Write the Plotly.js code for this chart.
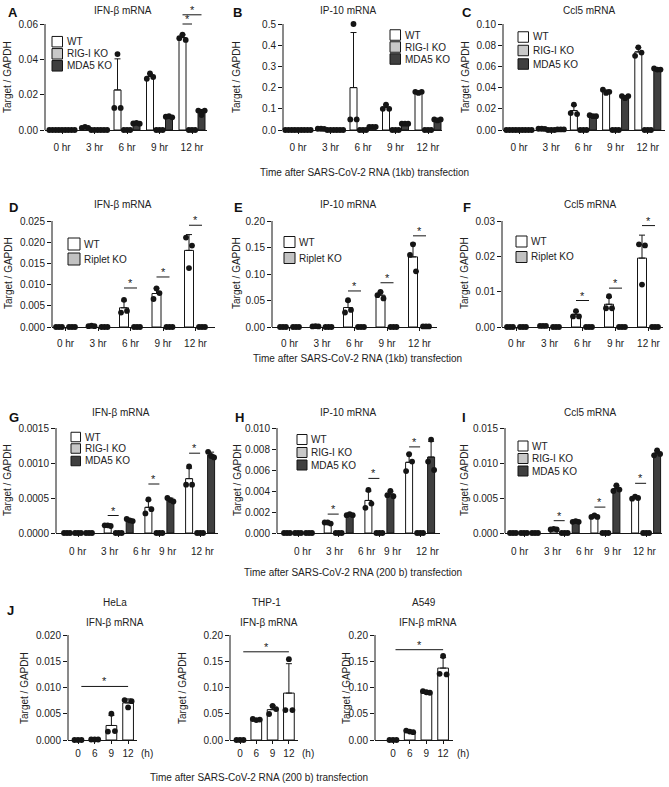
<!DOCTYPE html>
<html><head><meta charset="utf-8">
<script src="https://cdn.plot.ly/plotly-3.0.1.min.js"></script>
<style>html,body{margin:0;padding:0;background:#fff}#chart{width:669px;height:787px}</style>
</head><body><div id="chart"></div>
<script>
// ================= DATA =================
const hourLabels = ['0 hr', '3 hr', '6 hr', '9 hr', '12 hr'];
const hLabels = ['0', '6', '9', '12'];
const seriesTriple = ['WT', 'RIG-I KO', 'MDA5 KO'];
const seriesPair = ['WT', 'Riplet KO'];
const seriesSingle = ['WT'];

// replicates per time point (3 each)
const A_WT  = [[0,0,0],[0.0012,0.0018,0.0012],[0.0125,0.043,0.0125],[0.029,0.032,0.030],[0.052,0.054,0.051]];
const A_RIG = [[0,0,0],[0,0,0],[0,0,0],[0,0,0],[0,0,0]];
const A_MDA = [[0,0,0],[0,0,0],[0.0037,0.0040,0.0036],[0.0075,0.0078,0.0072],[0.0110,0.0085,0.0110]];

const B_WT  = [[0,0,0],[0.006,0.006,0.005],[0.05,0.50,0.05],[0.10,0.12,0.10],[0.18,0.175,0.18]];
const B_RIG = [[0,0,0],[0,0,0],[0,0,0],[0,0,0],[0,0,0]];
const B_MDA = [[0,0,0],[0,0,0],[0.015,0.015,0.015],[0.03,0.03,0.03],[0.05,0.045,0.05]];

const C_WT  = [[0,0,0],[0.0012,0.0012,0.001],[0.016,0.024,0.015],[0.038,0.035,0.036],[0.070,0.078,0.073]];
const C_RIG = [[0,0,0],[0,0,0],[0,0,0],[0,0,0],[0,0,0]];
const C_MDA = [[0,0,0],[0.0005,0.0005,0.0005],[0.014,0.013,0.013],[0.032,0.030,0.032],[0.058,0.057,0.057]];

const D_WT  = [[0,0,0],[0.0002,0.0003,0.0002],[0.0034,0.0064,0.0038],[0.0066,0.0091,0.0080],[0.0211,0.0139,0.0192]];
const D_KO  = [[0,0,0],[0,0,0],[0,0,0],[0,0,0],[0,0,0]];

const E_WT  = [[0,0,0],[0.001,0.0015,0.001],[0.0274,0.0505,0.0323],[0.060,0.066,0.054],[0.136,0.156,0.105]];
const E_KO  = [[0,0,0],[0,0,0],[0,0,0],[0,0,0],[0.001,0.001,0.001]];

const F_WT  = [[0,0,0],[0.0003,0.0003,0.0003],[0.0030,0.0045,0.0030],[0.0053,0.0087,0.0053],[0.0234,0.0120,0.0231]];
const F_KO  = [[0,0,0],[0,0,0],[0,0,0],[0,0,0],[0,0,0]];

const G_WT  = [[0,0,0],[0.00011,0.00011,0.00010],[0.00028,0.00048,0.00034],[0.00069,0.00095,0.00069]];
const G_RIG = [[0,0,0],[0,0,0],[0,0,0],[0,0,0]];
const G_MDA = [[0,0,0],[0.00020,0.00018,0.00017],[0.00050,0.00047,0.00045],[0.00116,0.00110,0.00108]];

const H_WT  = [[0,0,0],[0.0010,0.0010,0.0009],[0.0024,0.0041,0.0028],[0.0059,0.0075,0.0068]];
const H_RIG = [[0,0,0],[0,0,0],[0,0,0],[0,0,0]];
const H_MDA = [[0,0,0],[0.0017,0.0018,0.0017],[0.0036,0.0040,0.0035],[0.0068,0.0089,0.0060]];

const I_WT  = [[0,0,0],[0.0005,0.0006,0.0005],[0.0023,0.0025,0.0023],[0.0049,0.0052,0.0050]];
const I_RIG = [[0,0,0],[0,0,0],[0,0,0],[0,0,0]];
const I_MDA = [[0,0,0],[0.0016,0.0017,0.0016],[0.0060,0.0068,0.0062],[0.0111,0.0118,0.0113]];

const HeLa_WT = [[0,0,0],[0.0001,0.0001,0.0001],[0.0016,0.0050,0.0017],[0.0076,0.0062,0.0074]];
const THP1_WT = [[0,0,0],[0.040,0.038,0.039],[0.0495,0.065,0.059],[0.057,0.154,0.057]];
const A549_WT = [[0,0,0],[0.018,0.016,0.015],[0.093,0.091,0.090],[0.126,0.160,0.125]];

// significance marks: group, from-series, to-series, height
const sigA = [{g:4,a:0,b:1,y:0.0600},{g:4,a:0,b:2,y:0.0652}];
const sigD = [{g:2,a:0,b:1,y:0.0092},{g:3,a:0,b:1,y:0.0118},{g:4,a:0,b:1,y:0.0240}];
const sigE = [{g:2,a:0,b:1,y:0.068},{g:3,a:0,b:1,y:0.0835},{g:4,a:0,b:1,y:0.172}];
const sigF = [{g:2,a:0,b:1,y:0.0075},{g:3,a:0,b:1,y:0.0110},{g:4,a:0,b:1,y:0.0287}];
const sigG = [{g:1,a:0,b:1,y:0.00025},{g:2,a:0,b:1,y:0.00070},{g:3,a:0,b:1,y:0.00114}];
const sigH = [{g:1,a:0,b:1,y:0.0018},{g:2,a:0,b:1,y:0.0052},{g:3,a:0,b:1,y:0.0082}];
const sigI = [{g:1,a:0,b:1,y:0.00176},{g:2,a:0,b:1,y:0.0037},{g:3,a:0,b:1,y:0.0071}];
const sigHeLa = [{x0:0.2,x1:3.0,y:0.0102}];
const sigTHP1 = [{x0:0.2,x1:3.0,y:0.168}];
const sigA549 = [{x0:0.15,x1:3.0,y:0.172}];

// ================= LAYOUT / STYLE =================
const W = 669, H = 787;
const FONT = 'Arial, "Liberation Sans", Helvetica, sans-serif';
const INK = '#151515';
const COL = {'WT':'#ffffff','RIG-I KO':'#c8c8c8','MDA5 KO':'#3f3f3f','Riplet KO':'#c2c2c2'};
const row1 = {zero:130, topPx:24, domTop:1, xStand:5};
const row2 = {zero:327, topPx:221, domTop:198, xStand:4};
const row3 = {zero:533, topPx:428, domTop:420, xStand:4};
const row4 = {zero:740, topPx:635, domTop:628, xStand:1};

const panels = [
 Object.assign({letter:'A',letterPos:[6,13],title:'IFN-β mRNA',titlePos:[123,10],names:seriesTriple,data:[A_WT,A_RIG,A_MDA],ticks:hourLabels,
  ax:45,xe:207,g0:62,sp:32.5,top:0.06,dtick:0.02,fmt:'.2f',slot:9.5,bw:7,jit:3.2,sig:sigA,leg:{x:52,y:[41.7,53.8,65.8],box:10.5},yt:[8,77]},row1),
 Object.assign({letter:'B',letterPos:[231,13],title:'IP-10 mRNA',titlePos:[348,10],names:seriesTriple,data:[B_WT,B_RIG,B_MDA],ticks:hourLabels,
  ax:283,xe:442,g0:298,sp:32.5,top:0.5,dtick:0.1,fmt:'.1f',slot:9.5,bw:7,jit:3.2,sig:[],leg:{x:390,y:[35,47,59],box:10.5},yt:[237,77]},row1),
 Object.assign({letter:'C',letterPos:[460,13],title:'Ccl5 mRNA',titlePos:[589,10],names:seriesTriple,data:[C_WT,C_RIG,C_MDA],ticks:hourLabels,
  ax:503,xe:665,g0:519,sp:32.2,top:0.10,dtick:0.02,fmt:'.2f',slot:9.5,bw:7,jit:3.2,sig:[],leg:{x:518,y:[37,50.5,64],box:10.5},yt:[466,77]},row1),
 Object.assign({letter:'D',letterPos:[7,207],title:'IFN-β mRNA',titlePos:[123,205],names:seriesPair,data:[D_WT,D_KO],ticks:hourLabels,
  ax:52,xe:215,g0:65.5,sp:32.5,top:0.025,dtick:0.005,fmt:'.3f',slot:13,bw:9,jit:3,sig:sigD,leg:{x:68,y:[244,259],box:12},yt:[8,273]},row2),
 Object.assign({letter:'E',letterPos:[232,207],title:'IP-10 mRNA',titlePos:[348,205],names:seriesPair,data:[E_WT,E_KO],ticks:hourLabels,
  ax:272,xe:437,g0:289.5,sp:32.5,top:0.20,dtick:0.05,fmt:'.2f',slot:13,bw:9,jit:3,sig:sigE,leg:{x:284,y:[242,258],box:11},yt:[236,273]},row2),
 Object.assign({letter:'F',letterPos:[461,207],title:'Ccl5 mRNA',titlePos:[590,205],names:seriesPair,data:[F_WT,F_KO],ticks:hourLabels,
  ax:502,xe:663,g0:516.5,sp:33,top:0.03,dtick:0.01,fmt:'.2f',slot:13,bw:9,jit:3,sig:sigF,leg:{x:516,y:[241.5,257],box:11},yt:[464,273]},row2),
 Object.assign({letter:'G',letterPos:[7,417],title:'IFN-β mRNA',titlePos:[121,412],names:seriesTriple,data:[G_WT,G_RIG,G_MDA],annTicks:hourLabels,labelsU:[0,0.79,1.57,2.21,3.07],
  ax:56,xe:218,g0:78,sp:40.7,top:0.0015,dtick:0.0005,fmt:'.4f',slot:11,bw:7,jit:3,sig:sigG,leg:{x:71,y:[437,448.5,461],box:9.5},yt:[7,480]},row3),
 Object.assign({letter:'H',letterPos:[233,417],title:'IP-10 mRNA',titlePos:[348,412],names:seriesTriple,data:[H_WT,H_RIG,H_MDA],annTicks:hourLabels,labelsU:[0.12,0.91,1.70,2.33,3.17],
  ax:277,xe:440,g0:298,sp:40.7,top:0.010,dtick:0.002,fmt:'.3f',slot:11,bw:7,jit:3,sig:sigH,leg:{x:297,y:[439.5,452.5,465],box:10},yt:[237,480]},row3),
 Object.assign({letter:'I',letterPos:[460,417],title:'Ccl5 mRNA',titlePos:[590,412],names:seriesTriple,data:[I_WT,I_RIG,I_MDA],annTicks:hourLabels,labelsU:[-0.1,0.71,1.5,2.19,2.97],
  ax:505,xe:662,g0:524,sp:40.7,top:0.015,dtick:0.005,fmt:'.3f',slot:11,bw:7,jit:3,sig:sigI,leg:{x:518,y:[446,458.5,471],box:10},yt:[464,480]},row3),
 Object.assign({letter:'J',letterPos:[5,610],title:'IFN-β mRNA',titlePos:[115,622],sub:['HeLa',115,602],names:seriesSingle,data:[HeLa_WT],ticks:hLabels,unitX:147,
  ax:68,xe:137,g0:78,sp:16.7,top:0.020,dtick:0.005,fmt:'.3f',slot:0,bw:10.7,jit:3.5,spanSig:sigHeLa,yt:[24,688]},row4),
 Object.assign({title:'IFN-β mRNA',titlePos:[269,622],sub:['THP-1',266,602],names:seriesSingle,data:[THP1_WT],ticks:hLabels,unitX:308,
  ax:230,xe:298,g0:240,sp:16.3,top:0.20,dtick:0.05,fmt:'.2f',slot:0,bw:10.7,jit:3.5,spanSig:sigTHP1,yt:[182,688]},row4),
 Object.assign({title:'IFN-β mRNA',titlePos:[428,622],sub:['A549',424,602],names:seriesSingle,data:[A549_WT],ticks:hLabels,unitX:463,
  ax:375,xe:453,g0:393,sp:16.7,top:0.20,dtick:0.05,fmt:'.2f',slot:0,bw:10.7,jit:3.5,spanSig:sigA549,yt:[346,688]},row4)
];

const rowTitles = [
  {text:'Time after SARS-CoV-2 RNA (1kb) transfection', x:364, y:172},
  {text:'Time after SARS-CoV-2 RNA (1kb) transfection', x:358, y:358},
  {text:'Time after SARS-CoV-2 RNA (200 b) transfection', x:353, y:572},
  {text:'Time after SARS-CoV-2 RNA (200 b) transfection', x:259, y:777}
];

// ================= BUILD =================
const px = x => x / W;
const py = y => 1 - y / H;
const traces = [], shapes = [], annotations = [];
const layout = {
  width: W, height: H, margin:{l:0,r:0,t:0,b:0}, paper_bgcolor:'#fff', plot_bgcolor:'rgba(0,0,0,0)',
  barmode:'overlay', showlegend:false, font:{family:FONT, size:10, color:'#222'}
};
const txt = (text, x, y, o={}) => Object.assign({text, x:px(x), y:py(y), xref:'paper', yref:'paper', showarrow:false,
  xanchor:'center', yanchor:'middle', font:{family:FONT, size:10, color:'#222'}}, o);

panels.forEach((p, i) => {
  const k = i + 1, sfx = k === 1 ? '' : String(k);
  const xa = 'x' + sfx, ya = 'y' + sfx;
  const nG = p.data[0].length;
  const groups = Array.from({length:nG}, (_, g) => g);
  const n = p.names.length;
  const slotU = p.slot / p.sp, bwU = p.bw / p.sp, jitU = p.jit / p.sp;
  const offs = p.names.map((_, s) => (s - (n - 1) / 2) * slotU);

  p.data.forEach((reps, s) => {
    const means = reps.map(r => r.reduce((a, b) => a + b, 0) / r.length);
    const sds = reps.map((r, j) => Math.sqrt(r.reduce((a, b) => a + (b - means[j]) ** 2, 0) / (r.length - 1)));
    traces.push({type:'bar', x:groups, y:means, width:bwU, offset:offs[s] - bwU / 2, xaxis:xa, yaxis:ya,
      marker:{color:COL[p.names[s]], line:{color:INK, width:1}},
      error_y:{type:'data', symmetric:false, array:sds, arrayminus:sds.map(() => 0), color:INK, thickness:1, width:3},
      hoverinfo:'skip', showlegend:false});
    const dx = [], dy = [];
    reps.forEach((r, g) => r.forEach((v, j) => { dx.push(g + offs[s] + (j - (r.length - 1) / 2) * jitU); dy.push(v); }));
    traces.push({type:'scatter', mode:'markers', x:dx, y:dy, xaxis:xa, yaxis:ya, cliponaxis:false,
      marker:{color:INK, size:5.8}, hoverinfo:'skip', showlegend:false});
  });

  const yTopRange = p.top * (p.zero - p.domTop) / (p.zero - p.topPx);
  const tv = []; for (let j = 0; j * p.dtick <= p.top * 1.0000001; j++) tv.push(+(j * p.dtick).toFixed(8));
  layout['xaxis' + sfx] = {domain:[px(p.ax), px(p.xe)], range:[(p.ax - p.g0) / p.sp, (p.xe - p.g0) / p.sp], anchor:ya,
    showline:true, linecolor:INK, linewidth:1, ticks:'outside', ticklen:3, tickcolor:INK, tickwidth:1,
    tickvals:groups, ticktext:p.ticks || groups.map(() => ''), showticklabels:!!p.ticks, ticklabelstandoff:p.xStand,
    tickfont:{family:FONT, size:10, color:'#222'}, showgrid:false, zeroline:false, fixedrange:true};
  layout['yaxis' + sfx] = {domain:[py(p.zero), py(p.domTop)], range:[0, yTopRange], anchor:xa,
    showline:false, ticks:'outside', ticklen:4, tickcolor:INK, tickwidth:1, tickvals:tv, tickformat:p.fmt,
    tickfont:{family:FONT, size:10, color:'#222'}, showgrid:false, zeroline:false, fixedrange:true};

  // y axis line (ends at top tick)
  shapes.push({type:'line', xref:'paper', yref:ya, x0:px(p.ax), x1:px(p.ax), y0:0, y1:p.top, line:{color:INK, width:1}, layer:'above'});

  // significance
  (p.sig || []).forEach(s => {
    const x0 = s.g + offs[s.a], x1 = s.g + offs[s.b];
    shapes.push({type:'line', xref:xa, yref:ya, x0, x1, y0:s.y, y1:s.y, line:{color:INK, width:1}});
    annotations.push({text:'*', x:(x0 + x1) / 2, y:s.y, xref:xa, yref:ya, showarrow:false, xanchor:'center', yanchor:'middle', yshift:5,
      font:{family:FONT, size:11, color:'#222'}});
  });
  (p.spanSig || []).forEach(s => {
    shapes.push({type:'line', xref:xa, yref:ya, x0:s.x0, x1:s.x1, y0:s.y, y1:s.y, line:{color:INK, width:1}});
    annotations.push({text:'*', x:(s.x0 + s.x1) / 2, y:s.y, xref:xa, yref:ya, showarrow:false, xanchor:'center', yanchor:'middle', yshift:5,
      font:{family:FONT, size:11, color:'#222'}});
  });

  // text
  if (p.letter) annotations.push(txt('<b>' + p.letter + '</b>', p.letterPos[0], p.letterPos[1], {xanchor:'left', font:{family:FONT, size:13, color:'#111'}}));
  annotations.push(txt(p.title, p.titlePos[0], p.titlePos[1]));
  if (p.sub) annotations.push(txt(p.sub[0], p.sub[1], p.sub[2]));
  annotations.push(txt('Target / GAPDH', p.yt[0], p.yt[1], {textangle:-90}));
  if (p.annTicks) p.annTicks.forEach((t, j) => annotations.push({text:t, x:p.labelsU[j], y:py(p.zero + 18), xref:xa, yref:'paper',
    showarrow:false, xanchor:'center', yanchor:'middle', font:{family:FONT, size:10, color:'#222'}}));
  if (p.unitX) annotations.push(txt('(h)', p.unitX, p.zero + 13));

  // legend
  if (p.leg) p.names.forEach((nm, s) => {
    const b = p.leg.box, cy = p.leg.y[s];
    shapes.push({type:'rect', xref:'paper', yref:'paper', x0:px(p.leg.x), x1:px(p.leg.x + b), y0:py(cy + b / 2), y1:py(cy - b / 2),
      fillcolor:COL[nm], line:{color:INK, width:1}});
    annotations.push(txt(nm, p.leg.x + b + 2, cy, {xanchor:'left'}));
  });
});

rowTitles.forEach(r => annotations.push(txt(r.text, r.x, r.y)));
layout.shapes = shapes;
layout.annotations = annotations;

Plotly.newPlot('chart', traces, layout, {staticPlot:true, displayModeBar:false});
</script>
</body></html>
